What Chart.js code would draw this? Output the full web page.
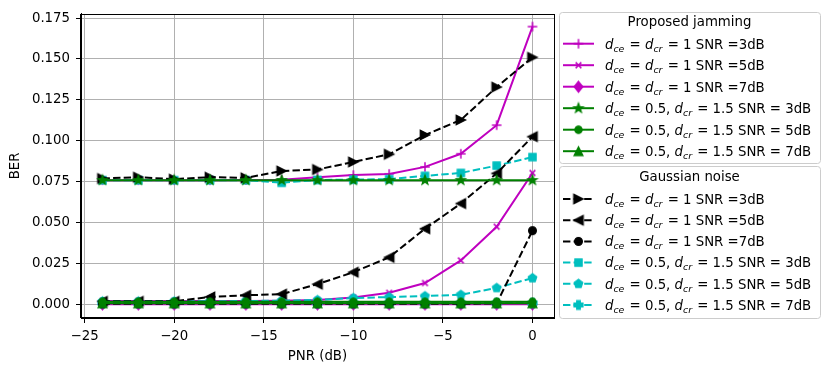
<!DOCTYPE html>
<html>
<head>
<meta charset="utf-8">
<script src="https://cdn.jsdelivr.net/npm/chart.js@4.4.1/dist/chart.umd.min.js"></script>
<style>
  html, body { margin: 0; padding: 0; background: #fff; }
  #wrap { width: 830px; height: 372px; }
</style>
</head>
<body>
<div id="wrap"><canvas id="myChart" width="830" height="372"></canvas></div>
<script>
const pnr = [-24, -22, -20, -18, -16, -14, -12, -10, -8, -6, -4, -2, 0]
const xTicks = [-25, -20, -15, -10, -5, 0]
const yTicks = [0, 0.025, 0.05, 0.075, 0.1, 0.125, 0.15, 0.175]

// proposed jamming
const jamA3 = [0.0759, 0.0759, 0.0759, 0.0759, 0.0760, 0.0762, 0.0777, 0.0790, 0.0797, 0.0840, 0.0920, 0.1095, 0.1698]
const jamA5 = [0.0020, 0.0020, 0.0020, 0.0020, 0.0020, 0.0021, 0.0026, 0.0042, 0.0070, 0.0130, 0.0268, 0.0474, 0.0803]
const jamA7 = [0.0000, 0.0000, 0.0000, 0.0000, 0.0000, 0.0000, 0.0000, 0.0000, 0.0000, 0.0000, 0.0000, 0.0000, 0.0000]
const jamB3 = [0.0759, 0.0759, 0.0759, 0.0759, 0.0759, 0.0759, 0.0759, 0.0759, 0.0759, 0.0759, 0.0759, 0.0759, 0.0759]
const jamB5 = [0.0015, 0.0015, 0.0015, 0.0015, 0.0015, 0.0015, 0.0015, 0.0015, 0.0015, 0.0015, 0.0015, 0.0015, 0.0015]
const jamB7 = [0.0006, 0.0006, 0.0006, 0.0006, 0.0006, 0.0006, 0.0006, 0.0006, 0.0006, 0.0006, 0.0006, 0.0006, 0.0006]
// gaussian noise
const gauA3 = [0.0769, 0.0777, 0.0765, 0.0777, 0.0773, 0.0815, 0.0824, 0.0870, 0.0917, 0.1035, 0.1127, 0.1328, 0.1510]
const gauA5 = [0.0018, 0.0018, 0.0018, 0.0045, 0.0055, 0.0062, 0.0123, 0.0196, 0.0287, 0.0462, 0.0616, 0.0800, 0.1025]
const gauA7 = [0.0003, 0.0003, 0.0003, 0.0003, 0.0003, 0.0003, 0.0003, 0.0003, 0.0003, 0.0003, 0.0003, 0.0005, 0.0450]
const gauB3 = [0.0759, 0.0759, 0.0759, 0.0759, 0.0759, 0.0743, 0.0760, 0.0762, 0.0765, 0.0785, 0.0803, 0.0848, 0.0900]
const gauB5 = [0.0018, 0.0018, 0.0018, 0.0018, 0.0020, 0.0022, 0.0026, 0.0038, 0.0044, 0.0050, 0.0058, 0.0100, 0.0160]
const gauB7 = [0.0008, 0.0008, 0.0008, 0.0008, 0.0008, 0.0008, 0.0008, 0.0008, 0.0008, 0.0008, 0.0008, 0.0008, 0.0008]

const MAG = '#bf00bf', GRN = '#008000', CYN = '#00bfbf', BLK = '#000000'
const FONT = "'DejaVu Sans', sans-serif"

// marker images, drawn once on small canvases
function marker(shape, color, s) {
  const c = document.createElement('canvas')
  c.width = Math.ceil(s) + 4
  c.height = Math.ceil(s) + 4
  const g = c.getContext('2d')
  const m = c.width / 2
  const r = s / 2
  g.translate(m, m)
  g.fillStyle = color
  g.strokeStyle = color
  g.lineWidth = 1.2
  g.lineJoin = 'miter'
  g.beginPath()
  if (shape === '+' || shape === 'x') {
    g.lineWidth = 1.5
    if (shape === 'x') g.rotate(Math.PI / 4)
    const q = shape === 'x' ? r * 0.95 : r
    g.moveTo(-q, 0); g.lineTo(q, 0)
    g.moveTo(0, -q); g.lineTo(0, q)
    g.stroke()
    return c
  }
  if (shape === 'o') {
    g.arc(0, 0, r - 0.6, 0, Math.PI * 2)
  } else if (shape === 's') {
    g.rect(-r + 0.6, -r + 0.6, s - 1.2, s - 1.2)
  } else if (shape === 'D') {
    g.moveTo(0, -r); g.lineTo(r * 0.8, 0); g.lineTo(0, r); g.lineTo(-r * 0.8, 0)
  } else if (shape === '^' || shape === '>' || shape === '<') {
    if (shape === '>') g.rotate(Math.PI / 2)
    if (shape === '<') g.rotate(-Math.PI / 2)
    g.moveTo(0, -r); g.lineTo(r, r); g.lineTo(-r, r)
  } else if (shape === 'p' || shape === '*') {
    const n = 5
    for (let i = 0; i < n * (shape === '*' ? 2 : 1); i++) {
      const k = shape === '*' ? Math.PI / 5 : 2 * Math.PI / 5
      const rr = shape === '*' && i % 2 ? r * 0.42 : r
      const a = -Math.PI / 2 + i * k
      if (i === 0) g.moveTo(rr * Math.cos(a), rr * Math.sin(a))
      else g.lineTo(rr * Math.cos(a), rr * Math.sin(a))
    }
  } else if (shape === 'P') {
    const w = r * 0.4
    g.moveTo(-w, -r); g.lineTo(w, -r); g.lineTo(w, -w); g.lineTo(r, -w); g.lineTo(r, w); g.lineTo(w, w)
    g.lineTo(w, r); g.lineTo(-w, r); g.lineTo(-w, w); g.lineTo(-r, w); g.lineTo(-r, -w); g.lineTo(-w, -w)
  }
  g.closePath()
  g.fill()
  g.stroke()
  return c
}

function series(label, data, color, shape, size, dashed, order) {
  const img = marker(shape, color, size)
  return {
    label: label,
    data: pnr.map((x, i) => ({ x: x, y: data[i] })),
    borderColor: color,
    backgroundColor: color,
    borderWidth: 2,
    borderDash: dashed ? [7.4, 3.2] : [],
    pointStyle: img,
    pointRadius: 5,
    pointHoverRadius: 5,
    tension: 0,
    order: order
  }
}

const datasets = [
  series('d_ce = d_cr = 1 SNR =3dB', jamA3, MAG, '+', 9.5, false, 2),
  series('d_ce = d_cr = 1 SNR =5dB', jamA5, MAG, 'x', 8.5, false, 2),
  series('d_ce = d_cr = 1 SNR =7dB', jamA7, MAG, 'D', 11, false, 2),
  series('d_ce = 0.5, d_cr = 1.5 SNR = 3dB', jamB3, GRN, '*', 10, false, 0),
  series('d_ce = 0.5, d_cr = 1.5 SNR = 5dB', jamB5, GRN, 'o', 8.5, false, 0),
  series('d_ce = 0.5, d_cr = 1.5 SNR = 7dB', jamB7, GRN, '^', 9, false, 0),
  series('d_ce = d_cr = 1 SNR =3dB', gauA3, BLK, '>', 9.5, true, 1),
  series('d_ce = d_cr = 1 SNR =5dB', gauA5, BLK, '<', 9.5, true, 1),
  series('d_ce = d_cr = 1 SNR =7dB', gauA7, BLK, 'o', 9, true, 1),
  series('d_ce = 0.5, d_cr = 1.5 SNR = 3dB', gauB3, CYN, 's', 8.5, true, 1),
  series('d_ce = 0.5, d_cr = 1.5 SNR = 5dB', gauB5, CYN, 'p', 9, true, 1),
  series('d_ce = 0.5, d_cr = 1.5 SNR = 7dB', gauB7, CYN, 'P', 9, true, 1)
]

const groups = [
  { title: 'Proposed jamming', from: 0, box: [559, 12, 261, 151], titleY: 23, rowY: 43.7, step: 21.5 },
  { title: 'Gaussian noise', from: 6, box: [559, 166, 261, 152], titleY: 177.5, rowY: 199, step: 21.2 }
]

// draw label like "d_ce = d_cr = 1 SNR =3dB" with italic d and subscripts
function drawLabel(ctx, text, x, y) {
  const parts = text.split(/(d_\w+)/).filter(p => p.length)
  ctx.textAlign = 'left'
  ctx.textBaseline = 'alphabetic'
  for (const p of parts) {
    if (p.startsWith('d_')) {
      ctx.font = 'italic 13.3px ' + FONT
      ctx.fillText('d', x, y)
      x += ctx.measureText('d').width
      ctx.font = 'italic 9.4px ' + FONT
      ctx.fillText(p.slice(2), x, y + 3)
      x += ctx.measureText(p.slice(2)).width + 1
    } else {
      ctx.font = '13.3px ' + FONT
      ctx.fillText(p, x, y)
      x += ctx.measureText(p).width
    }
  }
}

function roundRect(ctx, x, y, w, h, r) {
  ctx.beginPath()
  ctx.moveTo(x + r, y)
  ctx.arcTo(x + w, y, x + w, y + h, r)
  ctx.arcTo(x + w, y + h, x, y + h, r)
  ctx.arcTo(x, y + h, x, y, r)
  ctx.arcTo(x, y, x + w, y, r)
  ctx.closePath()
}

const groupLegend = {
  id: 'groupLegend',
  afterDatasetsDraw(chart) {
    const ctx = chart.ctx
    const a = chart.chartArea
    ctx.save()
    ctx.strokeStyle = '#000'
    ctx.lineWidth = 1
    ctx.strokeRect(Math.round(a.left) - 0.5, Math.round(a.top) + 0.5, Math.round(a.right - a.left) + 1, Math.round(a.bottom - a.top) - 1)
    ctx.restore()
  },
  afterDraw(chart) {
    const ctx = chart.ctx
    ctx.save()
    for (const g of groups) {
      const [bx, by, bw, bh] = g.box
      roundRect(ctx, bx + 0.5, by + 0.5, bw, bh, 3)
      ctx.fillStyle = 'rgba(255,255,255,0.8)'
      ctx.fill()
      ctx.strokeStyle = '#cccccc'
      ctx.lineWidth = 1
      ctx.stroke()
      ctx.fillStyle = '#000'
      ctx.font = '13.3px ' + FONT
      ctx.textAlign = 'center'
      ctx.textBaseline = 'middle'
      ctx.fillText(g.title, bx + bw / 2, g.titleY)
      for (let i = 0; i < 6; i++) {
        const ds = chart.data.datasets[g.from + i]
        const y = g.rowY + i * g.step
        ctx.strokeStyle = ds.borderColor
        ctx.lineWidth = 2
        ctx.setLineDash(ds.borderDash)
        ctx.beginPath()
        ctx.moveTo(563, y)
        ctx.lineTo(594, y)
        ctx.stroke()
        ctx.setLineDash([])
        const img = ds.pointStyle
        ctx.drawImage(img, 578.5 - img.width / 2, y - img.height / 2)
        ctx.fillStyle = '#000'
        drawLabel(ctx, ds.label, 605, y + 4.8)
      }
    }
    ctx.restore()
  }
}

const fmtX = v => (v < 0 ? '\u2212' + Math.abs(v) : String(v))

const config = {
  type: 'line',
  data: { datasets: datasets },
  options: {
    responsive: false,
    animation: false,
    events: [],
    layout: { padding: { left: 0, top: 11, right: 276, bottom: 0 } },
    plugins: { legend: { display: false }, tooltip: { enabled: false } },
    scales: {
      x: {
        type: 'linear',
        min: -25.2,
        max: 1.2,
        afterBuildTicks: s => { s.ticks = xTicks.map(v => ({ value: v })) },
        afterFit: s => { s.height = 54 },
        ticks: { callback: v => fmtX(v), color: '#000', font: { family: FONT, size: 13.3 }, padding: 6, maxRotation: 0, autoSkip: false },
        grid: { color: '#b0b0b0', lineWidth: 1, tickColor: '#000', tickLength: 5 },
        border: { color: '#000', width: 1 },
        title: { display: true, text: 'PNR (dB)', color: '#000', font: { family: FONT, size: 13.3 }, padding: { top: 2, bottom: 7 } }
      },
      y: {
        type: 'linear',
        min: -0.0084,
        max: 0.1775,
        afterBuildTicks: s => { s.ticks = yTicks.map(v => ({ value: v })) },
        afterFit: s => { s.width = 81 },
        ticks: { callback: v => v.toFixed(3), color: '#000', font: { family: FONT, size: 13.3 }, padding: 6 },
        grid: { color: '#b0b0b0', lineWidth: 1, tickColor: '#000', tickLength: 5 },
        border: { color: '#000', width: 1 },
        title: { display: true, text: 'BER', color: '#000', font: { family: FONT, size: 13.3 }, padding: { top: 8, bottom: 0 } }
      }
    }
  },
  plugins: [groupLegend]
}

const chart = new Chart(document.getElementById('myChart'), config)
</script>
</body>
</html>
